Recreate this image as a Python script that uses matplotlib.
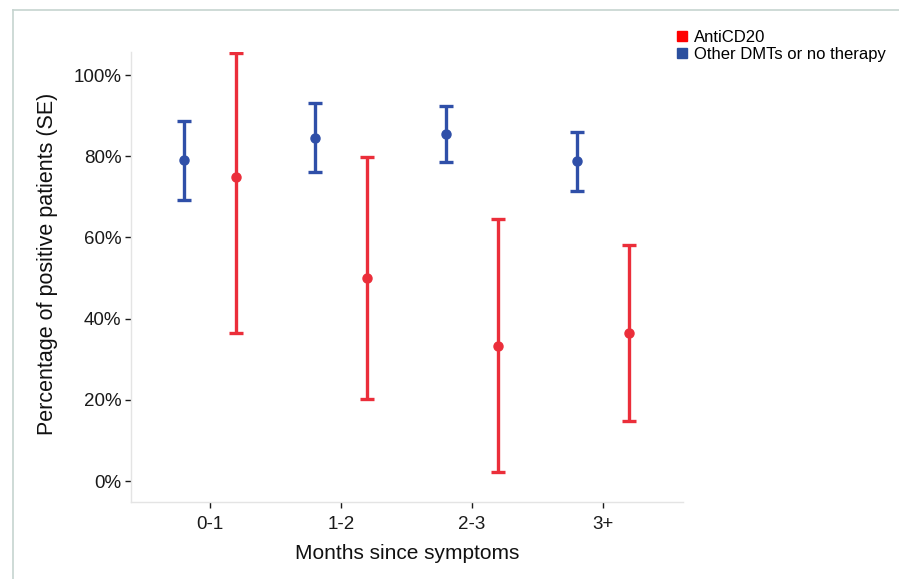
import matplotlib
matplotlib.use("Agg")
import matplotlib.pyplot as plt
from matplotlib.lines import Line2D
import numpy as np

categories = ["0-1", "1-2", "2-3", "3+"]
series_names = ["AntiCD20", "Other DMTs or no therapy"]

anti_mean = [75.0, 50.0, 33.3, 36.4]
anti_low = [36.5, 20.2, 2.3, 14.7]
anti_high = [105.5, 79.8, 64.6, 58.1]

other_mean = [79.0, 84.6, 85.5, 78.8]
other_low = [69.1, 76.0, 78.6, 71.5]
other_high = [88.6, 93.1, 92.4, 86.0]

yticks = [0, 20, 40, 60, 80, 100]
ytick_labels = ["0%", "20%", "40%", "60%", "80%", "100%"]

red = "#eb2e3a"
blue = "#2f4fa8"

plt.rcParams['font.family'] = ['Liberation Sans', 'DejaVu Sans']

fig = plt.figure(figsize=(8.99, 5.79), dpi=100)
ax = fig.add_axes([131/899, 1-502/579, (683-131)/899, (502-52)/579])

x = np.arange(len(categories))
off = 0.2

def draw(xpos, mean, low, high, color):
    mean = np.array(mean); low = np.array(low); high = np.array(high)
    ax.errorbar(xpos, mean, yerr=[mean-low, high-mean], fmt='o', color=color,
                ecolor=color, elinewidth=2.4, capsize=4.8, capthick=2.4,
                markersize=6.5, zorder=3)

draw(x - off, other_mean, other_low, other_high, blue)
draw(x + off, anti_mean, anti_low, anti_high, red)

ax.set_xlim(-0.603, 3.611)
ax.set_ylim(-5.17, 105.67)
ax.set_xticks(x)
ax.set_xticklabels(categories)
ax.set_yticks(yticks)
ax.set_yticklabels(ytick_labels)

for s in ["top", "right"]:
    ax.spines[s].set_visible(False)
for s in ["left", "bottom"]:
    ax.spines[s].set_color("#e4e4e4")
    ax.spines[s].set_linewidth(1.0)

ax.tick_params(axis='both', labelsize=13.5, colors="#1a1a1a", length=4, width=1, pad=3)
ax.tick_params(axis='x', pad=6)
ax.set_xlabel("Months since symptoms", fontsize=15, color="#111111", labelpad=8)
ax.set_ylabel("Percentage of positive patients (SE)", fontsize=15.5, color="#111111")
ax.yaxis.set_label_coords(-0.132, 0.53)

handles = [Line2D([], [], marker='s', linestyle='none', color="#ff0000", markersize=7),
           Line2D([], [], marker='s', linestyle='none', color="#2b4f9e", markersize=7)]
fig.legend(handles, series_names, loc='upper left', bbox_to_anchor=(665/899, 1-23/579),
           frameon=False, fontsize=12, handletextpad=0.15, labelspacing=0.12,
           handlelength=1.2, borderaxespad=0)

# outer frame lines
border = "#c6d4d0"
fig.add_artist(Line2D([13/899, 13/899], [0, 1-10/579], transform=fig.transFigure, color=border, lw=1.2))
fig.add_artist(Line2D([13/899, 1], [1-10/579, 1-10/579], transform=fig.transFigure, color=border, lw=1.2))

fig.savefig("out.png", dpi=100)
